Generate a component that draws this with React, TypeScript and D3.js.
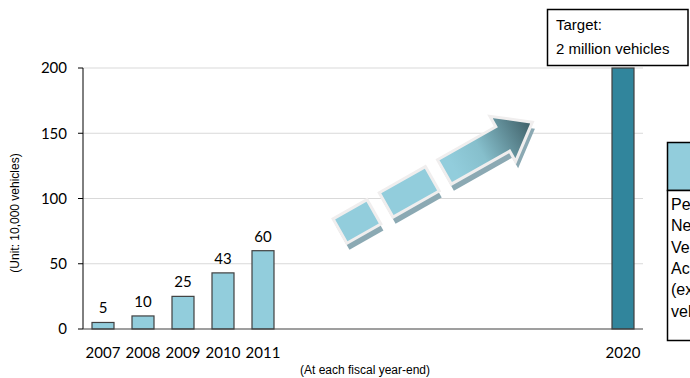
import React from "react";
import * as d3 from "d3";

const allYears = d3.range(2007, 2021).map(String);
const categories = ["2007", "2008", "2009", "2010", "2011", "2020"];
const values = [5, 10, 25, 43, 60, 200];
const yTicks = [0, 50, 100, 150, 200];
const targetLines = ["Target:", "2 million vehicles"];
const sideLines = ["Percentage of", "Next-generation", "Vehicles in", "Accumulated", "(excluding light", "vehicles)"];

const W = 690, H = 378;
const x = d3.scaleBand<string>().domain(allYears).range([83, 643]).padding(0);
const y = d3.scaleLinear().domain([0, 200]).range([329, 68]);

const numFont = "Lato, 'Open Sans', sans-serif";
const arial = "'Liberation Sans', Arial, sans-serif";

export default function App() {
  const bw = x.bandwidth() * 0.55;
  const segs = [
    [0, 39],
    [53, 106],
  ];
  const shaftH = 14;
  const headH = 26;
  const arrowPath = `M120,${-shaftH} L187,${-shaftH} L187,${-headH} L221,0 L187,${headH} L187,${shaftH} L120,${shaftH} Z`;
  return (
    <svg width={W} height={H} style={{ position: "absolute", left: 0, top: 0, background: "#fff" }}>
      <defs>
        <linearGradient id="arrowGrad" gradientUnits="userSpaceOnUse" x1={130} y1={0} x2={221} y2={0}>
          <stop offset="0" stopColor="#92CDDC" />
          <stop offset="0.35" stopColor="#86BFCC" />
          <stop offset="1" stopColor="#3E5E66" />
        </linearGradient>
        <clipPath id="pageClip">
          <rect x={0} y={0} width={W} height={H} />
        </clipPath>
      </defs>
      {yTicks.filter((t) => t > 0).map((t) => (
        <line key={t} x1={83} x2={643} y1={y(t)} y2={y(t)} stroke="#D9D9D9" strokeWidth={1} />
      ))}
      <line x1={83} x2={83} y1={y(200)} y2={y(0)} stroke="#000" strokeWidth={1} />
      {yTicks.map((t) => (
        <g key={t}>
          <line x1={78} x2={83} y1={y(t)} y2={y(t)} stroke="#000" />
          <text x={67} y={y(t)} dy="0.35em" textAnchor="end" fontFamily={numFont} fontSize={15} fill="#000">
            {t}
          </text>
        </g>
      ))}
      <text
        transform={`translate(19,${213}) rotate(-90)`}
        textAnchor="middle"
        fontFamily={arial}
        fontSize={12}
        fill="#000"
      >
        (Unit: 10,000 vehicles)
      </text>
      {categories.map((c, i) => {
        const cx = (x(c) as number) + x.bandwidth() / 2;
        const last = c === "2020";
        return (
          <g key={c}>
            <rect
              x={cx - bw / 2}
              y={y(values[i])}
              width={bw}
              height={y(0) - y(values[i])}
              fill={last ? "#31859C" : "#92CDDC"}
              stroke="#404040"
              strokeWidth={1.2}
            />
            {!last && (
              <text x={cx} y={y(values[i]) - 9} textAnchor="middle" fontFamily={numFont} fontSize={15} fill="#000">
                {values[i]}
              </text>
            )}
            <text x={cx} y={358} textAnchor="middle" fontFamily={numFont} fontSize={15} fill="#000">
              {c}
            </text>
          </g>
        );
      })}
      <line x1={83} x2={643} y1={y(0)} y2={y(0)} stroke="#404040" strokeWidth={1.2} />
      <text x={365} y={374} textAnchor="middle" fontFamily={arial} fontSize={12} fill="#000">
        (At each fiscal year-end)
      </text>
      <g transform="translate(340,231) rotate(-29.5)">
        <g transform="translate(-1,7)" fill="#8BA9B3">
          {segs.map(([a, b]) => (
            <rect key={a} x={a} y={-shaftH} width={b - a} height={shaftH * 2} />
          ))}
          <path d={arrowPath} />
        </g>
        <g stroke="#F0EEEE" strokeWidth={3} strokeLinejoin="miter">
          {segs.map(([a, b]) => (
            <rect key={a} x={a} y={-shaftH} width={b - a} height={shaftH * 2} fill="#92CDDC" />
          ))}
          <path d={arrowPath} fill="url(#arrowGrad)" />
        </g>
      </g>
      <rect x={547.5} y={9.5} width={140.5} height={56} fill="#fff" stroke="#000" strokeWidth={1.5} />
      {targetLines.map((t, i) => (
        <text key={i} x={556} y={30 + i * 24} fontFamily={arial} fontSize={15} fill="#000">
          {t}
        </text>
      ))}
      <g clipPath="url(#pageClip)">
        <rect x={667.5} y={142.5} width={60} height={48} fill="#92CDDC" stroke="#000" strokeWidth={1.5} />
        <rect x={667.5} y={190.5} width={60} height={150} fill="#fff" stroke="#000" strokeWidth={1.5} />
        {sideLines.map((t, i) => (
          <text key={i} x={671} y={210 + i * 21.3} fontFamily={arial} fontSize={16} fill="#000">
            {t}
          </text>
        ))}
      </g>
    </svg>
  );
}
